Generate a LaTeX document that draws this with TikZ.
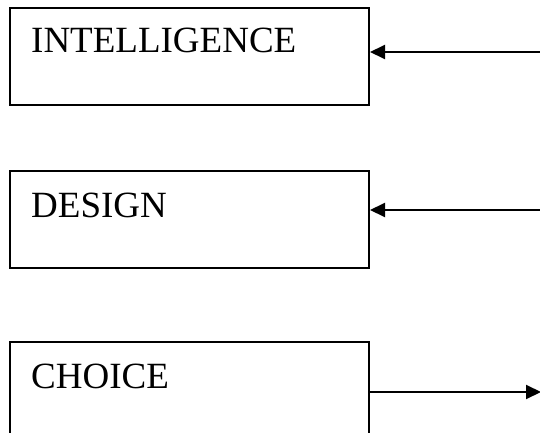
\documentclass[tikz,border=0pt]{standalone}
\usepackage{fontspec}
\setmainfont{Liberation Serif}
\usetikzlibrary{arrows.meta}
\begin{document}
\begin{tikzpicture}[x=1pt,y=-1pt,
  phase/.style={draw,line width=2pt,rectangle,minimum width=359pt,minimum height=97pt,inner sep=0pt,anchor=north west},
  title/.style={anchor=base west,inner sep=0pt,font=\fontsize{37}{44}\selectfont},
  flow/.style={line width=2pt,-{Triangle[length=15pt,width=14pt]}}]
  \useasboundingbox[fill=white] (0,0) rectangle (540,433);
  % three phase boxes
  \node[phase] (intel) at (9,7.5) {};
  \node[phase] (design) at (9,170) {};
  \node[phase] (choice) at (9,341) {};
  % box titles
  \node[title] (tintel) at (31,53) {INTELLIGENCE};
  \node[title] (tdesign) at (31,217) {DESIGN};
  \node[title] (tchoice) at (31,388) {CHOICE};
  % outer ends of the connectors
  \coordinate (in1) at (540,52);
  \coordinate (in2) at (540,210);
  \coordinate (out3) at (541,392);
  \draw[flow] (in1) -- (in1 -| intel.east);
  \draw[flow] (in2) -- (in2 -| design.east);
  \draw[flow] (out3 -| choice.east) -- (out3);
\end{tikzpicture}
\end{document}
